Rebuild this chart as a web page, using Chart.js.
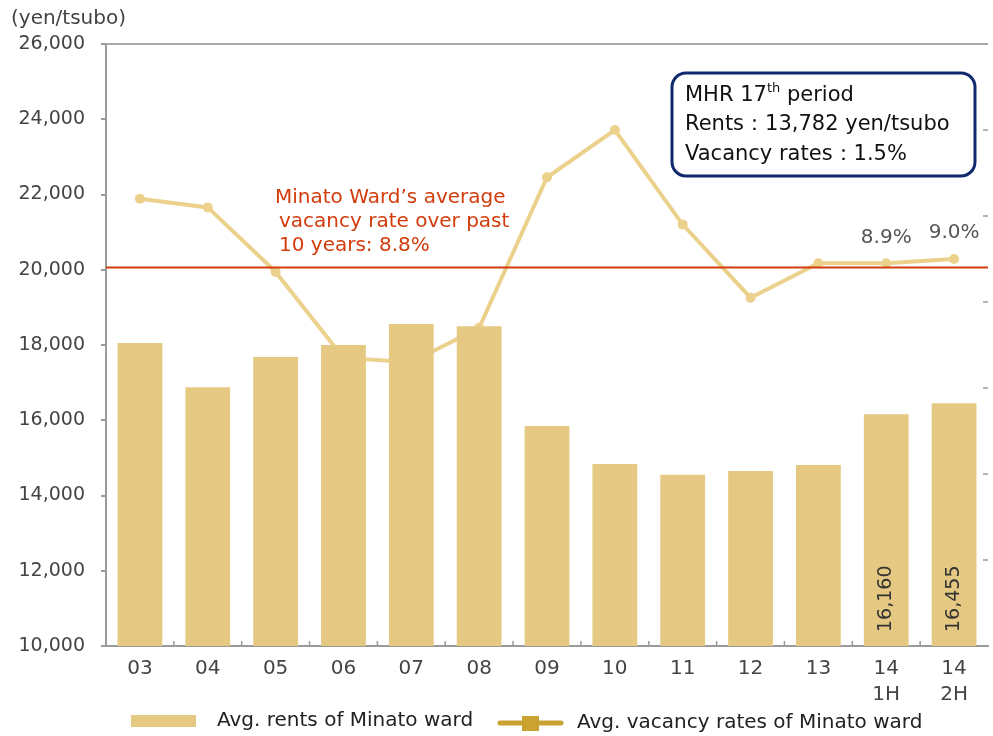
<!DOCTYPE html>
<html>
<head>
<meta charset="utf-8">
<script src="https://cdn.jsdelivr.net/npm/chart.js"></script>
<style>
  html, body { margin: 0; padding: 0; background: #fff; }
  #wrap { width: 993px; height: 736px; position: relative; }
</style>
</head>
<body>
<div id="wrap"><canvas id="chart" width="993" height="736"></canvas></div>
<script>
// --- data
const categories = ['03', '04', '05', '06', '07', '08', '09', '10', '11', '12', '13', ['14', '1H'], ['14', '2H']];
const rents = [18050, 16880, 17680, 18000, 18560, 18500, 15850, 14840, 14550, 14650, 14810, 16160, 16455];
const vacancy = [10.4, 10.2, 8.7, 6.7, 6.6, 7.4, 10.9, 12.0, 9.8, 8.1, 8.9, 8.9, 9.0];
const rentLabels = ['', '', '', '', '', '', '', '', '', '', '', '16,160', '16,455'];
const vacancyLabels = ['', '', '', '', '', '', '', '', '', '', '', '8.9%', '9.0%'];
const avgVacancy = 8.8;
const rentAxis = { min: 10000, max: 26000, step: 2000 };
const vacancyAxis = { min: 0, max: 14, step: 2 };

const FONT = "'DejaVu Sans', Verdana, sans-serif";
const barColor = '#e5c982';
const lineColor = '#ebd18c';
const redColor = '#d23c0c';

const decor = {
  id: 'decor',
  afterDatasetsDraw(chart) {
    const { ctx, chartArea: a, scales } = chart;
    const x = scales.x, y1 = scales.y1;
    ctx.save();

    // top frame line
    ctx.strokeStyle = '#a8a8a8';
    ctx.lineWidth = 2;
    ctx.beginPath();
    ctx.moveTo(a.left, a.top);
    ctx.lineTo(a.right, a.top);
    ctx.stroke();

    // inward tick marks on the x axis (between categories)
    ctx.strokeStyle = '#9a9a9a';
    ctx.lineWidth = 1.5;
    for (let i = 0; i < categories.length - 1; i++) {
      const px = (x.getPixelForValue(i) + x.getPixelForValue(i + 1)) / 2;
      ctx.beginPath();
      ctx.moveTo(px, a.bottom);
      ctx.lineTo(px, a.bottom - 5);
      ctx.stroke();
    }
    // inward tick marks on the hidden right axis
    for (let v = vacancyAxis.min + vacancyAxis.step; v < vacancyAxis.max; v += vacancyAxis.step) {
      const py = y1.getPixelForValue(v);
      ctx.beginPath();
      ctx.moveTo(a.right - 5, py);
      ctx.lineTo(a.right, py);
      ctx.stroke();
    }

    // 10-year average vacancy line
    const ry = y1.getPixelForValue(avgVacancy);
    ctx.strokeStyle = redColor;
    ctx.lineWidth = 2;
    ctx.beginPath();
    ctx.moveTo(a.left, ry);
    ctx.lineTo(a.right, ry);
    ctx.stroke();

    ctx.fillStyle = redColor;
    ctx.font = '20px ' + FONT;
    ctx.textBaseline = 'middle';
    ctx.textAlign = 'left';
    ctx.fillText('Minato Ward\u2019s average', 275, 198);
    ctx.fillText('vacancy rate over past', 279, 222);
    ctx.fillText('10 years: 8.8%', 279, 246);

    // rotated labels inside the last bars
    const bars = chart.getDatasetMeta(0).data;
    ctx.fillStyle = '#333';
    ctx.font = '19px ' + FONT;
    rentLabels.forEach((t, i) => {
      if (!t) return;
      ctx.save();
      ctx.translate(bars[i].x, a.bottom - 14);
      ctx.rotate(-Math.PI / 2);
      ctx.textAlign = 'left';
      ctx.textBaseline = 'middle';
      ctx.fillText(t, 0, 0);
      ctx.restore();
    });

    // vacancy value labels
    const pts = chart.getDatasetMeta(1).data;
    ctx.fillStyle = '#555';
    ctx.font = '20px ' + FONT;
    ctx.textAlign = 'center';
    ctx.textBaseline = 'bottom';
    vacancyLabels.forEach((t, i) => {
      if (!t) return;
      ctx.fillText(t, pts[i].x, pts[i].y - 16);
    });

    // y axis unit
    ctx.fillStyle = '#444';
    ctx.font = '20px ' + FONT;
    ctx.textAlign = 'left';
    ctx.textBaseline = 'middle';
    ctx.fillText('(yen/tsubo)', 11, 19);

    // MHR box
    ctx.strokeStyle = '#0e2a6c';
    ctx.lineWidth = 3;
    ctx.fillStyle = '#fff';
    ctx.beginPath();
    ctx.roundRect(672, 73, 303, 103, 14);
    ctx.fill();
    ctx.stroke();
    ctx.fillStyle = '#111';
    ctx.font = '21px ' + FONT;
    ctx.textBaseline = 'middle';
    let tx = 685;
    ctx.fillText('MHR 17', tx, 96);
    tx += ctx.measureText('MHR 17').width;
    ctx.font = '13px ' + FONT;
    ctx.fillText('th', tx, 89);
    tx += ctx.measureText('th').width;
    ctx.font = '21px ' + FONT;
    ctx.fillText(' period', tx, 96);
    ctx.fillText('Rents\uFF1A13,782 yen/tsubo', 685, 125);
    ctx.fillText('Vacancy rates\uFF1A1.5%', 685, 155);

    // legend
    const ds = chart.data.datasets;
    ctx.fillStyle = barColor;
    ctx.fillRect(131, 715, 65, 12);
    ctx.fillStyle = '#222';
    ctx.font = '20px ' + FONT;
    ctx.fillText(ds[0].label, 217, 721);

    ctx.strokeStyle = '#c9a232';
    ctx.lineWidth = 5;
    ctx.lineCap = 'round';
    ctx.beginPath();
    ctx.moveTo(500, 723);
    ctx.lineTo(561, 723);
    ctx.stroke();
    ctx.fillStyle = '#c9a232';
    ctx.fillRect(522, 716, 17, 15);
    ctx.fillStyle = '#222';
    ctx.fillText(ds[1].label, 577, 723);

    ctx.restore();
  }
};

new Chart(document.getElementById('chart'), {
  data: {
    labels: categories,
    datasets: [
      {
        type: 'bar',
        label: 'Avg. rents of Minato ward',
        data: rents,
        backgroundColor: barColor,
        barPercentage: 0.66,
        categoryPercentage: 1,
        yAxisID: 'y',
        order: 1
      },
      {
        type: 'line',
        label: 'Avg. vacancy rates of Minato ward',
        data: vacancy,
        borderColor: lineColor,
        backgroundColor: lineColor,
        borderWidth: 4,
        pointRadius: 5,
        pointBorderWidth: 0,
        tension: 0,
        yAxisID: 'y1',
        order: 2
      }
    ]
  },
  options: {
    responsive: false,
    devicePixelRatio: 1,
    animation: false,
    layout: { padding: { top: 44, bottom: 30, left: 0, right: 0 } },
    plugins: { legend: { display: false }, tooltip: { enabled: false } },
    scales: {
      x: {
        ticks: { color: '#444', font: { family: FONT, size: 20, lineHeight: 1.3 }, padding: 10, maxRotation: 0, autoSkip: false },
        grid: { display: false, drawTicks: false },
        border: { color: '#9a9a9a', width: 2 },
        afterFit: s => { s.height = 60; }
      },
      y: {
        position: 'left',
        min: rentAxis.min,
        max: rentAxis.max,
        ticks: {
          stepSize: rentAxis.step,
          color: '#444',
          font: { family: FONT, size: 19 },
          padding: 16,
          callback: v => v.toLocaleString('en-US')
        },
        grid: { drawOnChartArea: false, drawTicks: true, tickLength: 5, color: '#9a9a9a', lineWidth: 2 },
        border: { color: '#9a9a9a', width: 2 },
        afterFit: s => { s.width = 106; }
      },
      y1: {
        position: 'right',
        display: false,
        min: vacancyAxis.min,
        max: vacancyAxis.max,
        ticks: { stepSize: vacancyAxis.step }
      }
    }
  },
  plugins: [decor]
});
</script>
</body>
</html>
